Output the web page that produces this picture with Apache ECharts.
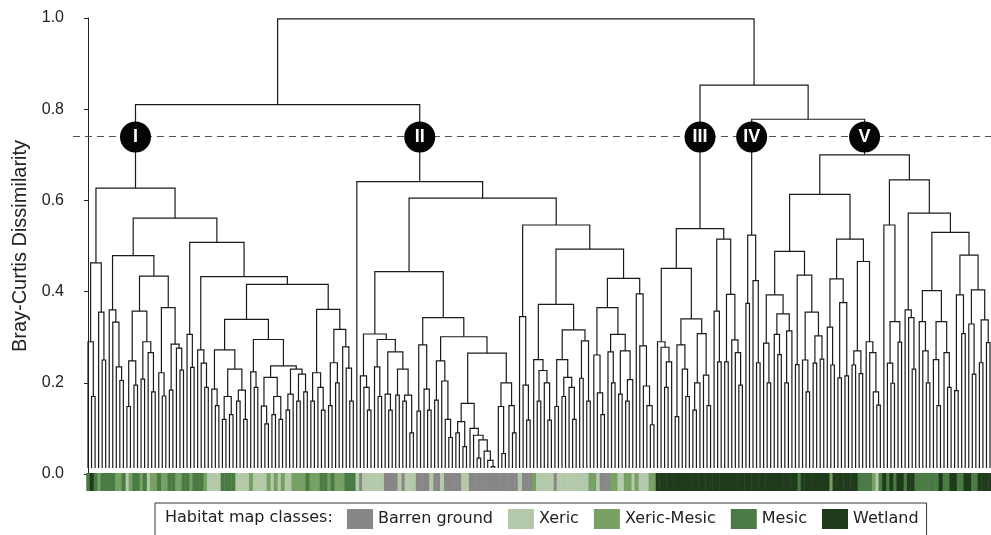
<!DOCTYPE html>
<html><head><meta charset="utf-8">
<script src="https://cdn.jsdelivr.net/npm/echarts@6.0.0/dist/echarts.min.js"></script>
<style>html,body{margin:0;padding:0;background:#fff}#chart{width:991px;height:535px}</style>
</head><body><div id="chart"></div>
<script>
// ---------- DATA ----------
// Dendrogram clusters: node = [height, left, right]; leaf = 0
const clusterI = [0.627,
  [0.463, [0.29, 0, [0.17, 0, 0]], [0.355, 0, [0.25, 0, 0]]],
  [0.561,
    [0.479,
      [0.36, 0, [0.333, 0, [0.235, 0, [0.205, 0, 0]]]],
      [0.434,
        [0.357, [0.248, [0.148, 0, 0], [0.195, 0, 0]], [0.29, [0.208, 0, 0], [0.266, 0, [0.18, 0, 0]]]],
        [0.365, [0.222, 0, [0.171, 0, 0]], [0.285, [0.184, 0, 0], [0.276, 0, [0.228, 0, 0]]]]]],
    [0.508,
      [0.306, 0, [0.234, 0, 0]],
      [0.433,
        [0.272, 0, [0.243, 0, [0.19, 0, 0]]],
        [0.416,
          [0.339,
            [0.272, [0.186, 0, [0.15, 0, 0]], [0.23, [0.17, [0.12, 0, 0], [0.13, 0, 0]], [0.184, [0.16, 0, 0], [0.12, 0, 0]]]],
            [0.295, [0.224, 0, [0.19, 0, 0]], [0.237, [0.212, [0.149, 0, [0.11, 0, 0]], [0.17, [0.13, 0, 0], [0.12, 0, 0]]], [0.23, [0.175, [0.14, 0, 0], 0], [0.219, [0.16, 0, 0], [0.18, 0, 0]]]]]],
          [0.361,
            [0.222, [0.16, 0, 0], [0.19, 0, [0.14, 0, 0]]],
            [0.317, [0.244, [0.15, 0, 0], [0.2, 0, 0]], [0.279, 0, [0.232, 0, [0.16, 0, 0]]]]]]]]]];

const clusterII = [0.641, 0,
  [0.605,
    [0.444,
      [0.307,
        [0.215, 0, [0.19, 0, [0.14, 0, 0]]],
        [0.295, [0.235, 0, [0.17, 0, 0]], [0.268, [0.175, 0, [0.14, 0, 0]], [0.23, [0.173, 0, 0], [0.173, [0.16, 0, 0], [0.09, 0, 0]]]]]],
      [0.343,
        [0.283, [0.138, 0, 0], [0.186, 0, [0.14, 0, 0]]],
        [0.301,
          [0.248, [0.162, 0, 0], [0.204, 0, [0.12, 0, [0.08, 0, 0]]]],
          [0.265,
            [0.155, [0.115, [0.09, 0, 0], [0.06, 0, 0]], [0.10, 0, [0.085, 0, [0.075, [0.035, 0, 0], [0.05, 0, [0.03, 0, [0.016, 0, 0]]]]]]],
            [0.20, [0.148, 0, [0.045, 0, 0]], [0.15, 0, [0.09, 0, 0]]]]]]],
    [0.546,
      [0.345, 0, [0.195, 0, [0.118, 0, 0]]],
      [0.493,
        [0.372,
          [0.251, 0, [0.227, [0.16, 0, 0], [0.2, 0, [0.118, 0, 0]]]],
          [0.316, [0.251, [0.148, 0, 0], [0.212, [0.17, 0, 0], [0.19, 0, [0.12, 0, 0]]]], [0.292, [0.21, 0, 0], [0.16, 0, 0]]]],
        [0.429,
          [0.365, [0.261, 0, [0.178, 0, [0.13, 0, 0]]], [0.306, [0.268, 0, [0.2, 0, 0]], [0.27, [0.175, 0, 0], [0.207, [0.16, 0, 0], 0]]]],
          [0.395, 0, [0.281, 0, [0.193, 0, [0.15, 0, [0.108, 0, 0]]]]]]]]]];

const clusterIII = [0.538,
  [0.451,
    [0.29, 0, [0.278, 0, [0.246, [0.19, 0, 0], 0]]],
    [0.34, [0.283, [0.126, 0, 0], [0.23, 0, [0.17, 0, 0]]], [0.308, [0.20, [0.14, 0, 0], 0], [0.217, 0, [0.15, 0, 0]]]]],
  [0.515,
    [0.357, 0, [0.246, 0, 0]],
    [0.394, [0.246, 0, 0], [0.294, 0, [0.266, 0, [0.195, 0, 0]]]]]];

const clusterIV = [0.524, [0.374, 0, 0], [0.424, 0, [0.244, 0, 0]]];

const clusterV = [0.70,
  [0.613,
    [0.488,
      [0.393, [0.287, 0, [0.2, 0, 0]], [0.351, [0.306, 0, [0.262, 0, 0]], [0.314, [0.2, 0, 0], 0]]],
      [0.436, [0.24, 0, 0], [0.355, [0.25, 0, [0.18, 0, 0]], [0.303, [0.243, 0, 0], [0.252, 0, 0]]]]],
    [0.515,
      [0.428, [0.322, 0, [0.239, 0, 0]], [0.376, [0.211, 0, 0], [0.215, 0, 0]]],
      [0.466, [0.27, [0.239, 0, 0], [0.22, 0, 0]], [0.29, 0, [0.266, 0, [0.18, 0, [0.151, 0, 0]]]]]]],
  [0.645,
    [0.546, 0, [0.334, [0.243, 0, [0.199, 0, 0]], [0.289, 0, 0]]],
    [0.572,
      [0.36, 0, [0.343, 0, [0.23, 0, 0]]],
      [0.53,
        [0.402, [0.334, 0, [0.27, 0, [0.2, 0, 0]]], [0.334, [0.251, 0, [0.15, 0, 0]], [0.266, 0, [0.19, 0, 0]]]],
        [0.48, [0.393, [0.183, 0, 0], [0.308, 0, 0]], [0.404, [0.329, 0, [0.219, 0, 0]], [0.338, [0.244, 0, 0], [0.288, 0, 0]]]]]]]];

// upper merges: (I+II), (IV+V), (III+(IV+V)), root
const upperMergeHeights = [0.81, 0.778, 0.853, 0.998];
const cutHeight = 0.739;
const clusterLabels = ['I', 'II', 'III', 'IV', 'V'];

// habitat class of each leaf, left to right (B Barren, X Xeric, Y Xeric-Mesic, M Mesic, W Wetland)
const habitatI = ['MWMYMMMMYY','MXYMMYMXYY','MYYMMYYMMY','MMMYXXXXMM','MMXXXXYXXX','XYXYXYXXYY','YYMYYYMMYM','YYYMMM'];
const habitatII = ['XBXX','XXXXBBBBXB','XXXBBBBXBB','XBBBBBXXBB','BBBBBBBBBB','BBXBBBYXXX','XXBXXXXXXX','XXYYXBBBYY','XXYYXYXXXY','Y'];
const habitatIII = ['WWWWWWWWW','WWWWWWWWWW','WWWWWW'];
const habitatIV = ['WWWWW'];
const habitatV = ['WWWWWWWWW','WMWWWWWWWW','YWWWWWWWMM','MMYXMWMWMW','WMWWMMMMMM','MWMMWWMMWW','MMWWWW'];

const habitatCodes = ['B', 'X', 'Y', 'M', 'W'];
const habitatNames = ['Barren ground', 'Xeric', 'Xeric-Mesic', 'Mesic', 'Wetland'];
const yTickValues = [0, 0.2, 0.4, 0.6, 0.8, 1.0];

// ---------- STYLE ----------
const habitatColors = ['#878787', '#b4c9a9', '#76a064', '#4a7b45', '#1f3b1c'];
const LEAF_BASE = 0.013;

// ---------- BUILD ----------
const tree = [upperMergeHeights[3],
  [upperMergeHeights[0], clusterI, clusterII],
  [upperMergeHeights[2], clusterIII, [upperMergeHeights[1], clusterIV, clusterV]]];

let leafCount = 0;
const paths = [];
const nodeX = new Map();
function lay(node) {
  if (typeof node === 'number') return { x: leafCount++, h: LEAF_BASE };
  const a = lay(node[1]), b = lay(node[2]);
  paths.push({ coords: [[a.x, a.h], [a.x, node[0]], [b.x, node[0]], [b.x, b.h]] });
  const x = (a.x + b.x) / 2;
  nodeX.set(node, x);
  return { x, h: node[0] };
}
lay(tree);
const N = leafCount;
const clusterPts = [clusterI, clusterII, clusterIII, clusterIV, clusterV]
  .map((c, i) => [nodeX.get(c), cutHeight, clusterLabels[i]]);

const leafHabitat = [habitatI, habitatII, habitatIII, habitatIV, habitatV]
  .map(a => a.join('')).join('').split('');

// pixel layout
const PLOT_LEFT = 73, FIRST_LEAF = 88, LAST_LEAF = 990, W = 991;
const step = (LAST_LEAF - FIRST_LEAF) / (N - 1);
const xMin = -(FIRST_LEAF - PLOT_LEFT) / step;
const xMax = (N - 1) + (W - LAST_LEAF) / step;

const stripSeries = habitatCodes.map((code, ci) => ({
  type: 'custom', name: habitatNames[ci], xAxisIndex: 1, yAxisIndex: 1,
  itemStyle: { color: habitatColors[ci] },
  data: leafHabitat.map((c, i) => c === code ? [i, 0] : null).filter(d => d),
  encode: { x: 0, y: 1 },
  renderItem: (params, api) => {
    const i = api.value(0);
    const p0 = api.coord([i - 0.5, 1]);
    const p1 = api.coord([i + 0.5, 0]);
    return { type: 'rect', shape: { x: p0[0], y: p0[1], width: p1[0] - p0[0] + 0.5, height: p1[1] - p0[1] },
      style: { fill: api.visual('color') } };
  },
  silent: true
}));

const chart = echarts.init(document.getElementById('chart'), null, { renderer: 'canvas' });
chart.setOption({
  animation: false,
  backgroundColor: '#fff',
  grid: [
    { left: PLOT_LEFT, right: 0, top: 18, bottom: 61 },
    { left: PLOT_LEFT, right: 0, top: 473, height: 18 }
  ],
  xAxis: [
    { type: 'value', gridIndex: 0, min: xMin, max: xMax, show: false },
    { type: 'value', gridIndex: 1, min: xMin, max: xMax, show: false }
  ],
  yAxis: [
    { type: 'value', gridIndex: 0, min: 0, max: 1, interval: 0.2,
      axisLine: { show: true, lineStyle: { color: '#222', width: 1 } },
      axisTick: { show: true, length: 4, lineStyle: { color: '#222' } },
      splitLine: { show: false },
      axisLabel: { fontSize: 16, color: '#222', fontFamily: 'Liberation Sans', margin: 9,
        formatter: v => yTickValues.some(t => Math.abs(t - v) < 1e-9) ? v.toFixed(1) : '' },
      name: 'Bray-Curtis Dissimilarity', nameLocation: 'middle', nameGap: 42,
      nameTextStyle: { fontSize: 20, color: '#222', fontFamily: 'Liberation Sans' } },
    { type: 'value', gridIndex: 1, min: 0, max: 1, show: false }
  ],
  legend: {
    left: 155, top: 503, orient: 'horizontal', icon: 'rect',
    itemWidth: 26, itemHeight: 20, itemGap: 15,
    padding: [6, 8, 12, 192], borderColor: '#333', borderWidth: 1, borderRadius: 0,
    selectedMode: false,
    textStyle: { fontFamily: 'DejaVu Sans', fontSize: 16, color: '#222' },
    data: habitatNames
  },
  graphic: [{ type: 'text', left: 165, top: 510,
    style: { text: 'Habitat map classes:', font: '16px "DejaVu Sans"', fill: '#222' } }],
  series: [
    { type: 'lines', coordinateSystem: 'cartesian2d', xAxisIndex: 0, yAxisIndex: 0,
      polyline: true, silent: true, z: 2,
      lineStyle: { color: '#1a1a1a', width: 1.2, opacity: 1 },
      data: paths,
      markLine: { silent: true, symbol: 'none', label: { show: false },
        lineStyle: { type: [7, 5], color: '#555', width: 1 },
        data: [{ yAxis: cutHeight }] } },
    { type: 'scatter', xAxisIndex: 0, yAxisIndex: 0, z: 5, symbol: 'circle', symbolSize: 31,
      itemStyle: { color: '#050505', opacity: 1 },
      label: { show: true, position: 'inside', formatter: p => p.data[2],
        color: '#fff', fontSize: 18, fontWeight: 'bold', fontFamily: 'Liberation Sans' },
      data: clusterPts, silent: true },
    ...stripSeries
  ]
});
</script></body></html>
